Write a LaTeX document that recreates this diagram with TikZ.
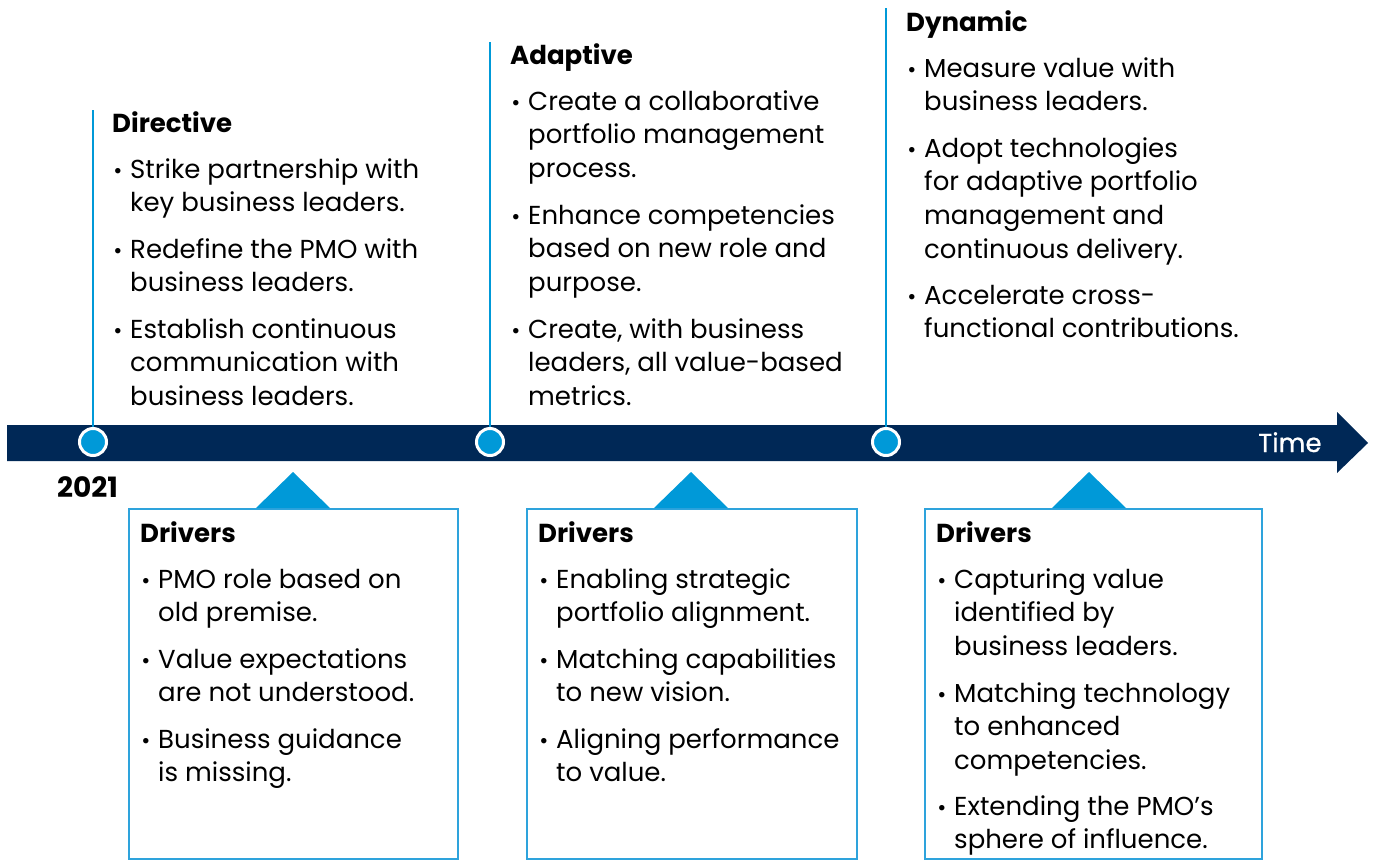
\documentclass[tikz,border=0pt]{standalone}
\usepackage{fontspec}
\setmainfont{Poppins}
\definecolor{navy}{HTML}{002856}
\definecolor{sky}{HTML}{0099D8}
\definecolor{skyline}{HTML}{2EA3DC}
% stacked lines with a fixed baseline distance; the box baseline is the first line
\newcommand\mlines[1]{\vtop{\baselineskip=33.8pt\lineskiplimit=-50pt\lineskip=0pt\halign{##\hfil\cr#1\crcr}}}
% one bulleted item: text node plus its bullet
\newcommand\bitem[4]{%
  \node[txt] (#1) at (#2,#3) {\mlines{#4}};
  \node[bul] (#1b) at ([xshift=-12pt]#1.base west) {\textbullet};}
\begin{document}
\begin{tikzpicture}[x=1pt,y=-1pt,
  txt/.style={inner sep=0pt, anchor=base west, font=\fontsize{26}{33.8}\selectfont},
  hd/.style={inner sep=0pt, anchor=base west, font=\fontsize{26}{30}\selectfont\bfseries},
  bul/.style={inner sep=0pt, anchor=base, font=\fontsize{22}{28}\selectfont},
  vline/.style={draw=sky, line width=1.8pt},
  dot/.style={circle, fill=sky, draw=white, line width=3pt, minimum size=27pt, inner sep=0pt},
  dbox/.style={draw=skyline, line width=1.8pt, anchor=north west, inner sep=0pt},
  tri/.style={fill=sky}]
\useasboundingbox (0,0) rectangle (1374,860);

% timeline arrow
\fill[navy] (7,425) -- (1337,425) -- (1337,412) -- (1368,443) -- (1337,473)
  -- (1337,461) -- (7,461) -- cycle;
\node[txt, text=white, font=\fontsize{26}{30}\selectfont\addfontfeature{FakeBold=0.7}] (time) at (1258,452) {Time};

% milestones
\coordinate (t1) at (93,110);
\coordinate (t2) at (490,42);
\coordinate (t3) at (886,8);
\draw[vline] (t1) -- (93,442);
\draw[vline] (t2) -- (490,442);
\draw[vline] (t3) -- (886,442);
\node[dot] (c1) at (93,442) {};
\node[dot] (c2) at (490,442) {};
\node[dot] (c3) at (886,442) {};
\node[hd, font=\fontsize{28}{30}\selectfont\bfseries] (year) at (57,497) {2021};

% Directive
\node[hd] (hdir) at (112,132) {Directive};
\bitem{d1}{130}{178}{Strike partnership with\cr key business leaders.}
\bitem{d2}{130}{258}{Redefine the PMO with\cr business leaders.}
\bitem{d3}{130}{338}{Establish continuous\cr communication with\cr business leaders.}

% Adaptive
\node[hd] (hada) at (510,64) {Adaptive};
\bitem{a1}{528}{110}{Create a collaborative\cr portfolio management\cr process.}
\bitem{a2}{528}{224}{Enhance competencies\cr based on new role and\cr purpose.}
\bitem{a3}{528}{338}{Create, with business\cr leaders, all value-based\cr metrics.}

% Dynamic
\node[hd] (hdyn) at (906,31) {Dynamic};
\bitem{y1}{924}{77}{Measure value with\cr business leaders.}
\bitem{y2}{924}{157}{Adopt technologies\cr for adaptive portfolio\cr management and\cr continuous delivery.}
\bitem{y3}{924}{304}{Accelerate cross-\cr functional contributions.}

% driver boxes with pointers
\node[dbox, minimum width=329pt, minimum height=350pt] (b1) at (128,508) {};
\node[dbox, minimum width=330pt, minimum height=350pt] (b2) at (526,508) {};
\node[dbox, minimum width=337pt, minimum height=350pt] (b3) at (924,508) {};
\fill[tri] (256,508) -- (293,472) -- (330,508) -- cycle;
\fill[tri] (654,508) -- (691,472) -- (728,508) -- cycle;
\fill[tri] (1052,508) -- (1089,472) -- (1126,508) -- cycle;

\node[hd] (hb1) at (140,542) {Drivers};
\bitem{p1}{158}{588}{PMO role based on\cr old premise.}
\bitem{p2}{158}{668}{Value expectations\cr are not understood.}
\bitem{p3}{158}{748}{Business guidance\cr is missing.}

\node[hd] (hb2) at (538,542) {Drivers};
\bitem{q1}{556}{588}{Enabling strategic\cr portfolio alignment.}
\bitem{q2}{556}{668}{Matching capabilities\cr to new vision.}
\bitem{q3}{556}{748}{Aligning performance\cr to value.}

\node[hd] (hb3) at (936,542) {Drivers};
\bitem{r1}{954}{588}{Capturing value\cr identified by\cr business leaders.}
\bitem{r2}{954}{702}{Matching technology\cr to enhanced\cr competencies.}
\bitem{r3}{954}{815}{Extending the PMO’s\cr sphere of influence.}
\end{tikzpicture}
\end{document}
